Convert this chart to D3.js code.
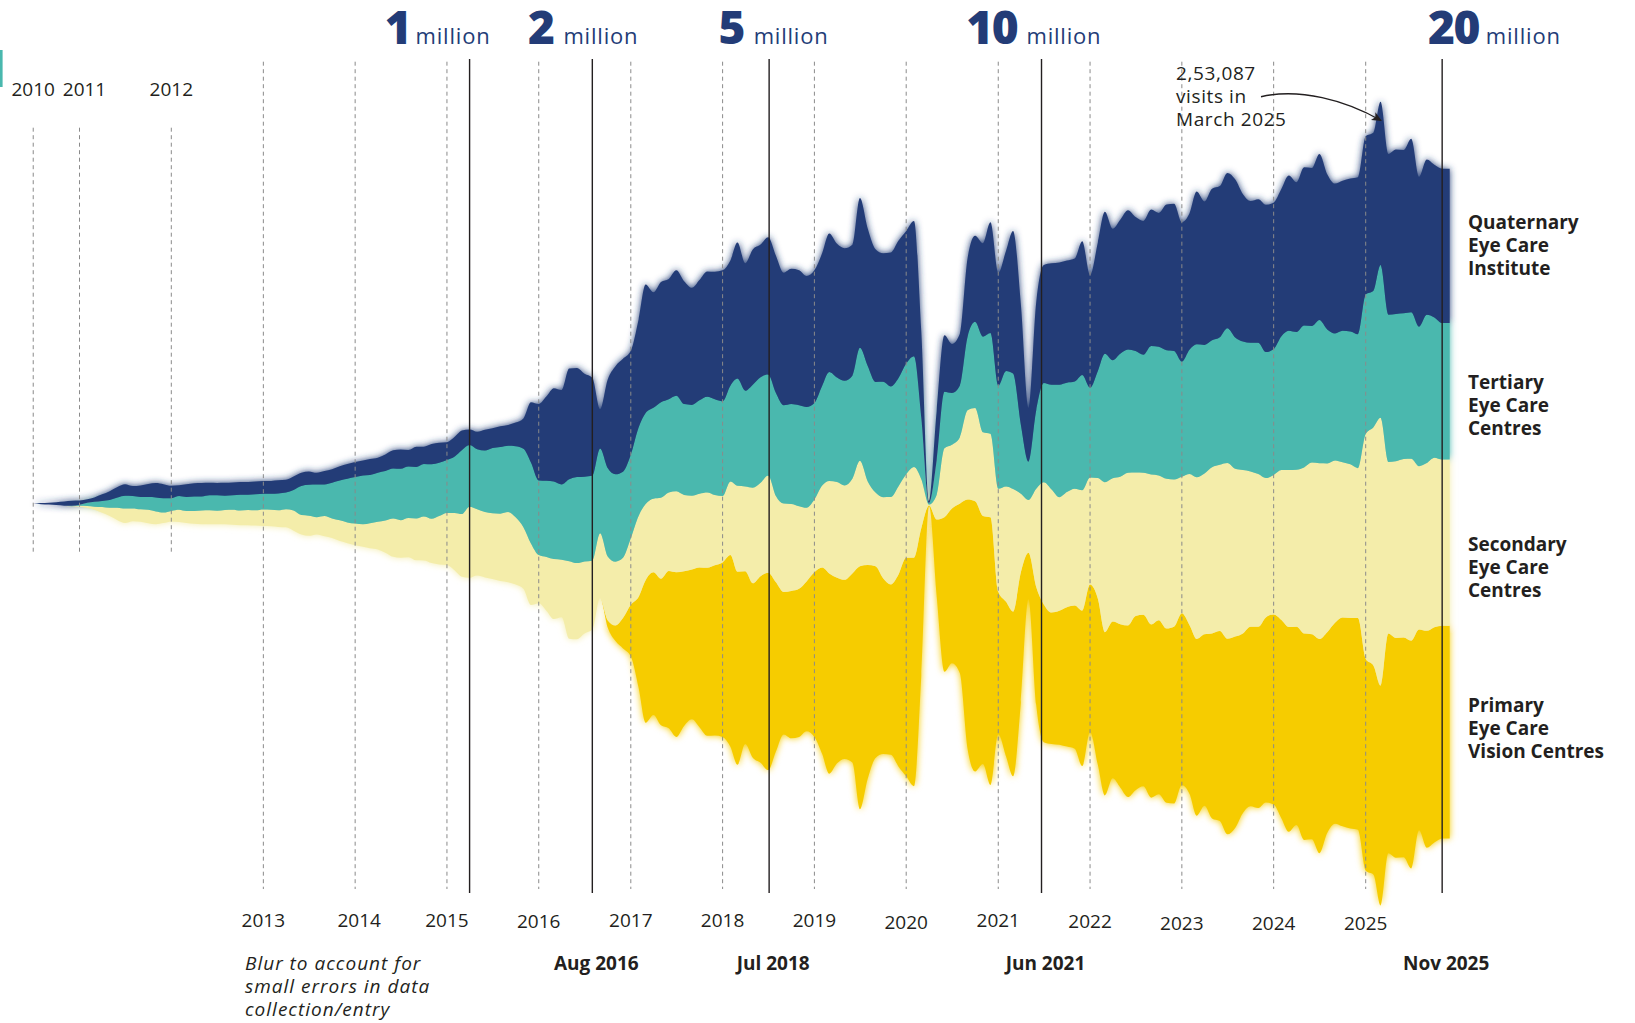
<!DOCTYPE html>
<html><head><meta charset="utf-8">
<script src="https://cdn.jsdelivr.net/npm/d3@7"></script>
<style>
html,body{margin:0;padding:0;background:#fff;}
svg{display:block;}
text{font-family:"Open Sans","Noto Sans",sans-serif;fill:#231f20;}
</style></head><body>
<svg id="chart" width="1635" height="1023"></svg>
<script>
// ---------- DATA (monthly patient visits, thousands) ----------
const months = [
"2010-07","2010-08","2010-09","2010-10","2010-11","2010-12",
"2011-01","2011-02","2011-03","2011-04","2011-05","2011-06","2011-07","2011-08","2011-09","2011-10","2011-11","2011-12",
"2012-01","2012-02","2012-03","2012-04","2012-05","2012-06","2012-07","2012-08","2012-09","2012-10","2012-11","2012-12",
"2013-01","2013-02","2013-03","2013-04","2013-05","2013-06","2013-07","2013-08","2013-09","2013-10","2013-11","2013-12",
"2014-01","2014-02","2014-03","2014-04","2014-05","2014-06","2014-07","2014-08","2014-09","2014-10","2014-11","2014-12",
"2015-01","2015-02","2015-03","2015-04","2015-05","2015-06","2015-07","2015-08","2015-09","2015-10","2015-11","2015-12",
"2016-01","2016-02","2016-03","2016-04","2016-05","2016-06","2016-07","2016-08","2016-09","2016-10","2016-11","2016-12",
"2017-01","2017-02","2017-03","2017-04","2017-05","2017-06","2017-07","2017-08","2017-09","2017-10","2017-11","2017-12",
"2018-01","2018-02","2018-03","2018-04","2018-05","2018-06","2018-07","2018-08","2018-09","2018-10","2018-11","2018-12",
"2019-01","2019-02","2019-03","2019-04","2019-05","2019-06","2019-07","2019-08","2019-09","2019-10","2019-11","2019-12",
"2020-01","2020-02","2020-03","2020-04","2020-05","2020-06","2020-07","2020-08","2020-09","2020-10","2020-11","2020-12",
"2021-01","2021-02","2021-03","2021-04","2021-05","2021-06","2021-07","2021-08","2021-09","2021-10","2021-11","2021-12",
"2022-01","2022-02","2022-03","2022-04","2022-05","2022-06","2022-07","2022-08","2022-09","2022-10","2022-11","2022-12",
"2023-01","2023-02","2023-03","2023-04","2023-05","2023-06","2023-07","2023-08","2023-09","2023-10","2023-11","2023-12",
"2024-01","2024-02","2024-03","2024-04","2024-05","2024-06","2024-07","2024-08","2024-09","2024-10","2024-11","2024-12",
"2025-01","2025-02","2025-03","2025-04","2025-05","2025-06","2025-07","2025-08","2025-09","2025-10","2025-11","2025-12"
];

const quaternary = [
0,0.4,0.6,0.9,1.3,1.6,
1.3,1.1,1.4,2.1,2.8,3.3,3.6,3.1,3.6,4.1,4.5,4.4,
3.9,3.4,4.0,4.1,4.2,3.9,3.8,4.0,4.0,4.0,4.0,4.0,
4.0,4.0,4.1,4.0,4.2,4.2,4.2,3.7,4.2,4.2,4.5,4.6,
4.7,4.7,5.0,4.7,5.2,5.7,6.1,5.2,6.3,5.4,6.3,6.3,
5.6,6.2,6.2,4.9,5.5,6.5,6.2,6.5,6.5,7.4,9.5,18.9,
24.0,26.5,29.3,29.6,34.7,34.2,32.3,30.8,12.3,27.7,33.9,35.4,
32.6,33.9,40.3,36.2,37.7,37.7,39.3,38.5,36.7,37.7,39.3,40.0,
41.1,39.3,42.7,40.0,42.4,41.6,43.1,43.1,41.6,42.4,42.4,41.1,
41.6,41.6,43.4,41.9,41.6,41.1,47.0,43.1,41.6,40.3,42.0,43.1,
41.6,42.4,27.0,0.6,15.4,17.7,15.4,16.2,24.6,27.0,29.3,34.7,
35.4,37.7,44.7,37.7,16.9,33.9,37.0,38.1,38.3,38.3,38.6,42.0,
35.3,40.3,44.5,41.2,42.0,43.7,42.0,42.0,42.8,42.0,45.7,46.2,
43.7,42.8,47.9,45.0,47.5,47.4,48.7,49.6,46.2,44.5,45.0,46.2,
45.9,46.2,48.7,47.0,49.6,49.6,52.1,48.7,47.0,47.0,47.9,49.2,
49.6,49.6,51.2,50.4,51.6,51.2,54.4,47.0,48.7,47.9,48.4,48.4
];

const tertiary = [
0,0,0,0,0,0.1,
0.3,1.0,1.5,1.9,2.4,3.2,4.0,3.9,3.9,4.0,4.4,4.5,
4.0,4.3,4.4,4.6,4.4,4.7,4.9,4.5,4.5,4.9,4.8,5.0,
4.9,5.0,5.3,5.2,6.5,9.1,9.7,10.2,9.9,11.2,12.5,13.7,
14.6,15.3,15.2,15.4,15.5,15.7,16.1,16.1,16.2,16.5,17.1,16.7,
16.6,17.7,20.0,19.3,18.8,19.3,20.5,20.9,20.8,22.3,24.6,25.4,
23.4,23.9,24.3,23.6,25.7,27.0,26.6,26.6,26.6,27.7,27.4,27.0,
26.2,27.7,28.5,28.5,30.0,29.3,30.0,28.5,28.5,29.3,30.0,30.0,
29.7,30.0,33.6,30.0,32.3,33.1,31.6,32.3,30.8,31.3,31.6,31.6,
30.3,31.3,34.2,32.8,32.8,32.3,35.4,36.2,34.7,36.2,34.7,33.9,
34.7,34.7,19.3,0.5,10.8,17.7,16.2,16.2,23.1,27.0,30.0,31.6,
32.3,36.2,36.2,21.6,12.0,24.6,31.1,32.8,35.3,34.3,33.6,36.1,
28.1,33.6,40.3,37.0,38.6,38.6,38.1,37.0,40.3,40.3,40.3,40.3,
36.1,39.0,41.7,40.3,39.8,40.0,42.3,41.2,40.3,40.3,41.2,39.5,
39.5,42.0,43.7,43.2,44.5,42.8,44.9,42.0,39.8,41.2,41.7,42.0,
43.7,42.8,47.9,46.2,46.2,45.7,45.9,43.7,46.5,44.0,42.8,42.8
];

const secondary = [
0,0,0,0,0,0.1,
0.3,0.6,1.0,1.8,2.6,3.9,4.5,4.0,3.9,4.2,4.0,3.3,
3.3,3.8,3.7,4.0,4.3,4.4,4.2,4.5,4.7,4.6,4.8,4.8,
5.2,5.2,5.2,5.7,6.3,6.1,6.3,5.4,6.3,6.1,6.5,6.5,
6.8,7.0,7.8,8.7,10.1,12.0,11.8,12.3,13.1,13.8,13.9,15.2,
16.3,18.0,19.6,22.3,20.8,20.5,20.6,21.1,22.0,21.1,19.3,19.3,
15.1,16.9,18.8,18.0,24.3,23.9,22.6,21.6,20.3,20.0,20.0,18.9,
20.8,25.4,23.9,23.1,25.4,24.6,25.4,23.9,23.1,23.1,23.6,22.0,
20.8,23.1,27.0,26.6,30.0,29.3,30.5,27.0,27.7,27.3,25.9,23.1,
22.8,25.7,29.0,30.0,29.6,29.7,33.1,26.2,23.1,25.4,27.4,27.7,
26.2,28.5,15.4,0.3,7.7,21.6,20.0,20.8,28.0,29.3,26.2,26.2,
32.3,36.2,38.5,24.6,16.5,30.8,38.3,38.6,35.6,36.1,36.6,37.8,
33.6,37.8,47.0,44.9,46.2,47.9,45.0,44.5,47.0,45.4,47.0,46.2,
42.8,47.5,50.7,50.4,52.1,52.1,55.1,52.6,51.2,48.7,47.9,43.7,
43.7,47.0,49.2,49.2,52.1,53.8,55.1,52.9,50.9,48.7,48.2,47.0,
70.6,74.8,84.0,53.8,55.4,55.9,57.1,51.2,52.6,53.1,52.1,52.1
];

const primary = [
0,0,0,0,0,0,
0,0,0,0,0,0,0,0,0,0,0,0,
0,0,0,0,0,0,0,0,0,0,0,0,
0,0,0,0,0,0,0,0,0,0,0,0,
0,0,0,0,0,0,0,0,0,0,0,0,
0,0,0,0,0,0,0,0,0,0,0,0,
0,0,0,0,0,0,0,0,0,2.3,4.9,9.5,
16.2,28.5,44.7,44.7,45.9,49.3,51.6,48.5,47.0,50.1,52.7,53.4,
54.7,60.1,60.5,54.2,54.7,58.5,61.9,53.1,44.7,46.2,46.5,47.0,
51.6,58.5,62.8,58.2,56.2,59.3,76.2,67.0,60.1,55.1,53.4,60.1,
68.5,71.6,46.2,0.2,23.9,48.5,48.5,53.1,78.2,84.7,77.8,83.9,
44.7,48.5,51.6,40.8,14.6,37.0,43.2,41.2,42.0,43.7,44.9,48.7,
46.2,52.1,51.2,49.2,51.2,53.8,54.6,53.8,54.3,54.6,54.6,55.4,
53.8,52.9,55.4,53.8,58.0,59.6,61.3,60.0,56.3,56.3,56.8,58.0,
59.6,62.2,64.2,62.2,64.7,64.3,67.2,63.0,63.0,65.5,66.0,66.4,
66.4,65.5,68.9,68.9,68.9,68.9,71.4,63.0,68.0,67.5,66.7,66.7
];

const seriesNames = ["Primary","Secondary","Tertiary","Quaternary"];
const seriesLabels = [
  ["Primary","Eye Care","Vision Centres"],
  ["Secondary","Eye Care","Centres"],
  ["Tertiary","Eye Care","Centres"],
  ["Quaternary","Eye Care","Institute"]
];
const seriesColors = ["#f6cc00","#f4edaa","#4ab8ae","#233c77"];

const yearTicks = [2011,2012,2013,2014,2015,2016,2017,2018,2019,2020,2021,2022,2023,2024,2025];
const topYearLabels = ["2010","2011","2012"];
const bottomYearLabels = ["2013","2014","2015","2016","2017","2018","2019","2020","2021","2022","2023","2024","2025"];

const milestoneDates = ["2015-04-01","2016-08-01","2018-07-05","2021-06-22","2025-11-01"];
const milestoneNumbers = ["1","2","5","10","20"];
const milestoneBottom = ["","Aug 2016","Jul 2018","Jun 2021","Nov 2025"];

const peakNote = ["2,53,087","visits in","March 2025"];
const blurNote = ["Blur to account for","small errors in data","collection/entry"];

// ---------- CHART ----------
const svg = d3.select("#chart");
const parseM = d3.timeParse("%Y-%m");
const parseD = d3.timeParse("%Y-%m-%d");

const rows = months.map((m,i)=>({
  date: parseM(m),
  Primary: primary[i], Secondary: secondary[i], Tertiary: tertiary[i], Quaternary: quaternary[i]
}));

const x = d3.scaleTime()
  .domain([new Date(2011,0,1), new Date(2025,0,1)])
  .range([79.5, 1365.7]);
const y = d3.scaleLinear().domain([-130,130]).range([918.2, 89.0]);

const stacked = d3.stack().keys(seriesNames)
  .order(d3.stackOrderNone).offset(d3.stackOffsetSilhouette)(rows);

const area = d3.area()
  .x(d=>x(d.data.date)).y0(d=>y(d[0])).y1(d=>y(d[1]))
  .curve(d3.curveMonotoneX);

const defs = svg.append("defs");
defs.append("filter").attr("id","soft")
  .attr("x","-0.05").attr("y","-0.1").attr("width","1.1").attr("height","1.2")
  .append("feGaussianBlur").attr("stdDeviation",3.5);
defs.append("marker").attr("id","ah").attr("viewBox","0 0 10 10")
  .attr("refX",9).attr("refY",5).attr("markerUnits","userSpaceOnUse")
  .attr("markerWidth",11).attr("markerHeight",10).attr("orient","auto")
  .append("path").attr("d","M0,0.5 L10,5 L0,9.5 L2.5,5 z").attr("fill","#231f20");

// teal sliver at the left edge
svg.append("rect").attr("x",0).attr("y",50).attr("width",2.6).attr("height",37).attr("fill",seriesColors[2]);

// blurred halo + crisp layers
svg.append("g").attr("filter","url(#soft)")
  .selectAll("path").data(stacked).join("path")
  .attr("d",area).attr("fill",(d,i)=>seriesColors[i]);
svg.append("g")
  .selectAll("path").data(stacked).join("path")
  .attr("d",area).attr("fill",(d,i)=>seriesColors[i]);

// dashed year lines
const grid = svg.append("g").attr("stroke","#8a8a8a").attr("stroke-width",1).attr("stroke-dasharray","4,3.5");
const startDate = rows[0].date;
[startDate, ...yearTicks.map(yr=>new Date(yr,0,1))].forEach((d)=>{
  const early = d.getFullYear() <= 2012;
  grid.append("line")
    .attr("x1",x(d)).attr("x2",x(d))
    .attr("y1", early ? 127.7 : 61.7)
    .attr("y2", early ? 551.7 : 889);
});

// top year labels
const topLabelDates = [startDate, new Date(2011,0,1), new Date(2012,0,1)];
const topLabelShift = [0, 5, 0];
topYearLabels.forEach((t,i)=>{
  svg.append("text").attr("x",x(topLabelDates[i])+topLabelShift[i]).attr("y",95.7)
    .attr("text-anchor","middle").attr("font-size",19).text(t);
});

// bottom year labels
const bottomBase = {"2016":928.3,"2020":929.3,"2022":928.3,"2023":930,"2024":930,"2025":930};
const bottomShift = {"2014":4};
bottomYearLabels.forEach(t=>{
  svg.append("text").attr("x",x(new Date(+t,0,1))+(bottomShift[t]||0))
    .attr("y",bottomBase[t]||926.7).attr("text-anchor","middle").attr("font-size",19).text(t);
});

// milestone solid lines and labels
const numEndOff = [-59.4,-38.9,-25.2,-24.4,36.7];
const millOff = [-54,-28.9,-15.5,-15,43.7];
milestoneDates.forEach((ds,i)=>{
  const mx = x(parseD(ds));
  svg.append("line").attr("x1",mx).attr("x2",mx).attr("y1",59).attr("y2",893)
    .attr("stroke","#231f20").attr("stroke-width",1.4);
  svg.append("text").attr("x",mx+numEndOff[i]).attr("y",44).attr("text-anchor","end")
    .attr("font-size",46).attr("font-weight",800).attr("letter-spacing",-1.5)
    .style("fill","#233c77").text(milestoneNumbers[i]);
  svg.append("text").attr("x",mx+millOff[i]).attr("y",44)
    .attr("font-size",22).attr("letter-spacing",0.8).style("fill","#233c77").text("million");
  if (milestoneBottom[i]) {
    svg.append("text").attr("x",mx+4).attr("y",969.5).attr("text-anchor","middle")
      .attr("font-size",19).attr("font-weight",700).text(milestoneBottom[i]);
  }
});

// series labels at right
const labelBase = [711.8, 551.2, 388.6, 228.5];
seriesLabels.forEach((lines,i)=>{
  const t = svg.append("text").attr("x",1468).attr("y",labelBase[i])
    .attr("font-size",19).attr("font-weight",700);
  lines.forEach((l,j)=>t.append("tspan").attr("x",1468).attr("y",labelBase[i]+j*23).text(l));
});

// peak annotation
const pk = svg.append("text").attr("font-size",19).attr("letter-spacing",0.6);
peakNote.forEach((l,j)=>pk.append("tspan").attr("x",1176).attr("y",79.7+j*23.1).text(l));
svg.append("path").attr("d","M1261,96.7 C1300,88 1345,100 1381,120.5")
  .attr("fill","none").attr("stroke","#231f20").attr("stroke-width",1.4).attr("marker-end","url(#ah)");

// blur note
const bn = svg.append("text").attr("font-size",19).attr("font-style","italic").attr("letter-spacing",1);
blurNote.forEach((l,j)=>bn.append("tspan").attr("x",245).attr("y",970+j*23).text(l));
</script>
</body></html>
